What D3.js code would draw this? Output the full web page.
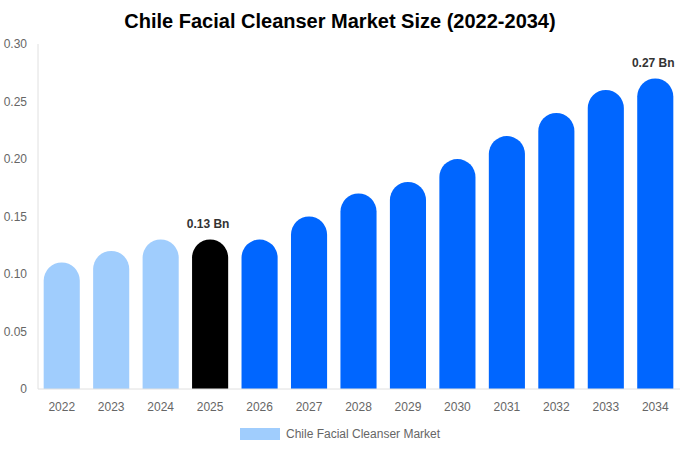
<!DOCTYPE html>
<html>
<head>
<meta charset="utf-8">
<script src="https://cdn.jsdelivr.net/npm/d3@7"></script>
<style>
  body { margin: 0; background: #fff; }
  text { font-family: "Liberation Sans", Arial, sans-serif; }
</style>
</head>
<body>
<div id="chart"></div>
<script>
// chart data
const years = ["2022", "2023", "2024", "2025", "2026", "2027", "2028", "2029", "2030", "2031", "2032", "2033", "2034"];
const values = [0.11, 0.12, 0.13, 0.13, 0.13, 0.15, 0.17, 0.18, 0.20, 0.22, 0.24, 0.26, 0.27];
const yTicks = [0, 0.05, 0.10, 0.15, 0.20, 0.25, 0.30];
const labelled = ["2025", "2034"];
const seriesName = "Chile Facial Cleanser Market";

const width = 680, height = 450;
const margin = { top: 44, right: 0, bottom: 61, left: 38 };

const svg = d3.select("#chart").append("svg")
    .attr("width", width)
    .attr("height", height);

const x = d3.scaleBand()
    .domain(years)
    .range([margin.left - 1, 680])
    .paddingInner(0.27)
    .paddingOuter(0.135);

const y = d3.scaleLinear()
    .domain([0, 0.30])
    .range([height - margin.bottom, margin.top]);

function barColor(yr) {
    if (+yr < 2025) return "#a0cdfd";
    if (+yr === 2025) return "#000000";
    return "#0066ff";
}

// title
svg.append("text")
    .attr("x", width / 2)
    .attr("y", 28)
    .attr("text-anchor", "middle")
    .style("font-size", "20px")
    .style("font-weight", "bold")
    .style("fill", "#000")
    .text("Chile Facial Cleanser Market Size (2022-2034)");

// y axis
svg.append("line")
    .attr("x1", margin.left).attr("x2", margin.left)
    .attr("y1", margin.top).attr("y2", y(0))
    .attr("stroke", "#e0e0e0");

svg.selectAll(".ytick")
    .data(yTicks)
    .enter().append("text")
    .attr("class", "ytick")
    .attr("x", 27)
    .attr("y", d => y(d) + 4)
    .attr("text-anchor", "end")
    .style("font-size", "12px")
    .style("fill", "#666")
    .text(d => d === 0 ? "0" : d.toFixed(2));

// bars with round tops
const bw = x.bandwidth();
const r = bw / 2;

svg.selectAll(".bar")
    .data(years)
    .enter().append("path")
    .attr("class", "bar")
    .attr("fill", d => barColor(d))
    .attr("d", (d, i) => {
        let x0 = x(d), top = y(values[i]), base = y(0);
        let rr = Math.min(r, base - top);
        return `M${x0},${base} L${x0},${top + rr} A${rr},${rr} 0 0 1 ${x0 + bw},${top + rr} L${x0 + bw},${base} Z`;
    });

// x axis line
svg.append("line")
    .attr("x1", margin.left).attr("x2", width)
    .attr("y1", y(0)).attr("y2", y(0))
    .attr("stroke", "#e0e0e0");

svg.selectAll(".xtick")
    .data(years)
    .enter().append("text")
    .attr("class", "xtick")
    .attr("x", d => x(d) + bw / 2)
    .attr("y", y(0) + 22)
    .attr("text-anchor", "middle")
    .style("font-size", "12px")
    .style("fill", "#666")
    .text(d => d);

// value labels
svg.selectAll(".vlabel")
    .data(years.filter(d => labelled.includes(d)))
    .enter().append("text")
    .attr("class", "vlabel")
    .attr("x", d => x(d) + bw / 2 - 2)
    .attr("y", d => y(values[years.indexOf(d)]) - 12)
    .attr("text-anchor", "middle")
    .style("font-size", "12px")
    .style("font-weight", "bold")
    .style("fill", "#333")
    .text(d => values[years.indexOf(d)].toFixed(2) + " Bn");

// legend
const legend = svg.append("g").attr("transform", "translate(240, 428)");
legend.append("rect")
    .attr("width", 40).attr("height", 12)
    .attr("fill", "#a0cdfd");
legend.append("text")
    .attr("x", 46).attr("y", 10)
    .style("font-size", "12px")
    .style("fill", "#666")
    .text(seriesName);
</script>
</body>
</html>
